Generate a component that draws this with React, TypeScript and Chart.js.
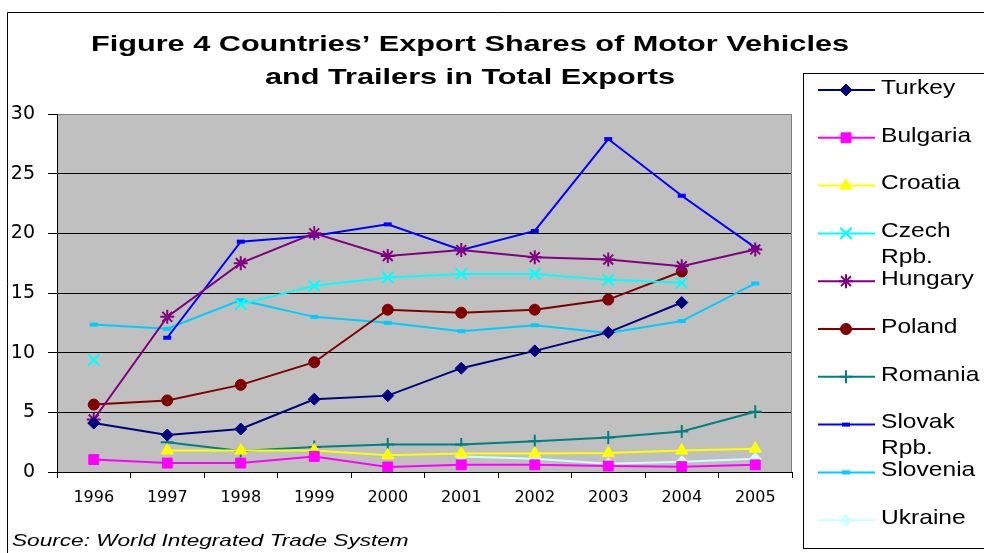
import React, { useEffect, useRef } from 'react';
import { Chart, registerables } from 'chart.js';
import { drawPoint } from 'chart.js/helpers';

Chart.register(...registerables);

const years = ['1996', '1997', '1998', '1999', '2000', '2001', '2002', '2003', '2004', '2005'];
const turkey = [4.1, 3.1, 3.6, 6.1, 6.4, 8.7, 10.15, 11.7, 14.2, null];
const bulgaria = [1.04, 0.75, 0.75, 1.3, 0.42, 0.6, 0.6, 0.5, 0.45, 0.6];
const croatia = [null, 1.8, 1.8, 1.8, 1.4, 1.55, 1.55, 1.6, 1.8, 1.95];
const czech = [9.4, null, 14.07, 15.6, 16.3, 16.6, 16.6, 16.1, 15.85, null];
const hungary = [4.4, 13.0, 17.5, 20.0, 18.1, 18.6, 18.0, 17.8, 17.25, 18.65];
const poland = [5.65, 6.0, 7.3, 9.2, 13.6, 13.35, 13.6, 14.45, 16.8, null];
const romania = [null, 2.5, 1.75, 2.1, 2.3, 2.3, 2.57, 2.9, 3.4, 5.05];
const slovak = [null, 11.25, 19.3, 19.8, 20.75, 18.6, 20.2, 27.9, 23.15, 18.8];
const slovenia = [12.35, 12.0, 14.4, 13.0, 12.5, 11.8, 12.3, 11.65, 12.65, 15.8];
const ukraine = [null, null, null, null, null, 1.3, 1.1, 0.7, 0.85, 1.1];

const yTicks = [0, 5, 10, 15, 20, 25, 30];
const titleLines = ['Figure 4 Countries\u2019 Export Shares of Motor Vehicles', 'and Trailers in Total Exports'];
const sourceText = 'Source: World Integrated Trade System';

const legendLabels = [
  ['Turkey'], ['Bulgaria'], ['Croatia'], ['Czech', 'Rpb.'], ['Hungary'],
  ['Poland'], ['Romania'], ['Slovak', 'Rpb.'], ['Slovenia'], ['Ukraine'],
];

function mk(label: string, data: (number | null)[], color: string, style: string, radius: number, pbw: number) {
  return {
    label,
    data,
    borderColor: color,
    backgroundColor: color,
    pointBackgroundColor: color,
    pointBorderColor: color,
    pointStyle: style,
    pointRadius: radius,
    pointHoverRadius: radius,
    pointBorderWidth: pbw,
    borderWidth: 2,
    spanGaps: false,
    tension: 0,
  };
}

const datasets = [
  mk('Turkey', turkey, '#000080', 'rectRot', 6, 1),
  mk('Bulgaria', bulgaria, '#FF00FF', 'rect', 7, 1),
  mk('Croatia', croatia, '#FFFF00', 'triangle', 7, 1),
  mk('Czech Rpb.', czech, '#00FFFF', 'crossRot', 8, 2),
  mk('Hungary', hungary, '#800080', 'star', 7, 2),
  mk('Poland', poland, '#800000', 'circle', 5.5, 1),
  mk('Romania', romania, '#008080', 'cross', 6.5, 2),
  mk('Slovak Rpb.', slovak, '#0000FF', 'line', 4, 4),
  mk('Slovenia', slovenia, '#00CCFF', 'line', 4, 4),
  mk('Ukraine', ukraine, '#CCFFFF', 'rectRot', 6, 1),
];

function drawScaledText(ctx: CanvasRenderingContext2D, text: string, x: number, y: number, font: string, align: 'left' | 'center', scaleX: number) {
  ctx.save();
  ctx.font = font;
  ctx.textBaseline = 'middle';
  ctx.textAlign = align;
  ctx.fillStyle = '#000';
  ctx.translate(x, y);
  ctx.scale(scaleX, 1);
  ctx.fillText(text, 0, 0);
  ctx.restore();
}

const decorPlugin = {
  id: 'decor',
  beforeDraw(chart: any) {
    const { ctx, chartArea } = chart;
    ctx.save();
    ctx.fillStyle = '#fff';
    ctx.fillRect(0, 0, chart.width, chart.height);
    ctx.fillStyle = '#C0C0C0';
    ctx.fillRect(chartArea.left, chartArea.top, chartArea.right - chartArea.left, chartArea.bottom - chartArea.top);
    ctx.restore();
  },
  beforeDatasetsDraw(chart: any) {
    const { ctx, chartArea } = chart;
    ctx.save();
    ctx.strokeStyle = '#808080';
    ctx.lineWidth = 1;
    ctx.beginPath();
    ctx.moveTo(Math.round(chartArea.right) - 0.5, chartArea.top);
    ctx.lineTo(Math.round(chartArea.right) - 0.5, chartArea.bottom);
    ctx.stroke();
    ctx.restore();
  },
  afterDraw(chart: any) {
    const { ctx } = chart;
    // outer frame
    ctx.save();
    ctx.strokeStyle = '#000';
    ctx.lineWidth = 1;
    ctx.beginPath();
    ctx.moveTo(7.5, 560);
    ctx.lineTo(7.5, 12.5);
    ctx.lineTo(990, 12.5);
    ctx.stroke();
    ctx.restore();

    // title
    ctx.save();
    const titleFont = 'bold 22px "Liberation Sans", Arial, sans-serif';
    ctx.font = titleFont;
    const w1 = ctx.measureText(titleLines[0]).width;
    ctx.restore();
    const tScale = 758 / w1;
    drawScaledText(ctx, titleLines[0], 470, 45, titleFont, 'center', tScale);
    drawScaledText(ctx, titleLines[1], 470, 78, titleFont, 'center', tScale);

    // source
    drawScaledText(ctx, sourceText, 12, 541, 'italic 17px "Liberation Sans", Arial, sans-serif', 'left', 1.33);

    // legend box
    ctx.save();
    ctx.fillStyle = '#fff';
    ctx.fillRect(804, 73, 200, 475);
    ctx.strokeStyle = '#000';
    ctx.lineWidth = 1;
    ctx.strokeRect(803.5, 73.5, 200, 475);
    ctx.restore();

    const legendFont = '21px "Liberation Sans", Arial, sans-serif';
    chart.data.datasets.forEach((ds: any, i: number) => {
      const y = 90 + i * 47.8;
      ctx.save();
      ctx.strokeStyle = ds.borderColor;
      ctx.lineWidth = 2;
      ctx.beginPath();
      ctx.moveTo(818, y);
      ctx.lineTo(875, y);
      ctx.stroke();
      ctx.fillStyle = ds.pointBackgroundColor;
      ctx.strokeStyle = ds.pointBorderColor;
      ctx.lineWidth = ds.pointBorderWidth;
      drawPoint(ctx, { pointStyle: ds.pointStyle, rotation: 0, radius: ds.pointRadius, borderWidth: ds.pointBorderWidth }, 846, y);
      ctx.restore();
      const lines = legendLabels[i];
      lines.forEach((t, k) => {
        drawScaledText(ctx, t, 881, y - 2 + k * 26, legendFont, 'left', 1.17);
      });
    });
  },
};

export default function App() {
  const ref = useRef<HTMLCanvasElement | null>(null);
  useEffect(() => {
    if (!ref.current) return;
    const chart = new Chart(ref.current, {
      type: 'line',
      data: { labels: years, datasets: datasets as any },
      options: {
        responsive: false,
        animation: false,
        devicePixelRatio: 1,
        layout: { padding: { left: 0, top: 114, right: 192, bottom: 41 } },
        plugins: {
          legend: { display: false },
          title: { display: false },
          tooltip: { enabled: false },
        },
        scales: {
          x: {
            type: 'category',
            offset: true,
            grid: { offset: true, drawOnChartArea: false, drawTicks: true, tickLength: 6, color: '#000' },
            border: { display: true, color: '#000', width: 1 },
            ticks: { color: '#000', font: { family: '"DejaVu Sans", Verdana, sans-serif', size: 16 }, padding: 10, maxRotation: 0, autoSkip: false },
            afterFit: (s: any) => { s.height = 40; },
          },
          y: {
            min: 0,
            max: 30,
            afterBuildTicks: (s: any) => { s.ticks = yTicks.map((v) => ({ value: v })); },
            ticks: { stepSize: 5, color: '#000', font: { family: '"DejaVu Sans", Verdana, sans-serif', size: 19 }, padding: 13 },
            grid: {
              color: (c: any) => (c.tick && c.tick.value === 30 ? '#808080' : '#000'),
              tickColor: '#000',
              tickLength: 9,
              lineWidth: 1,
            },
            border: { display: true, color: '#000', width: 1 },
            afterFit: (s: any) => { s.width = 57; },
          },
        },
      } as any,
      plugins: [decorPlugin],
    });
    return () => chart.destroy();
  }, []);
  return (
    <div style={{ position: 'absolute', left: 0, top: 0, width: 984, height: 553 }}>
      <canvas ref={ref} width={984} height={553} style={{ display: 'block' }} />
    </div>
  );
}
